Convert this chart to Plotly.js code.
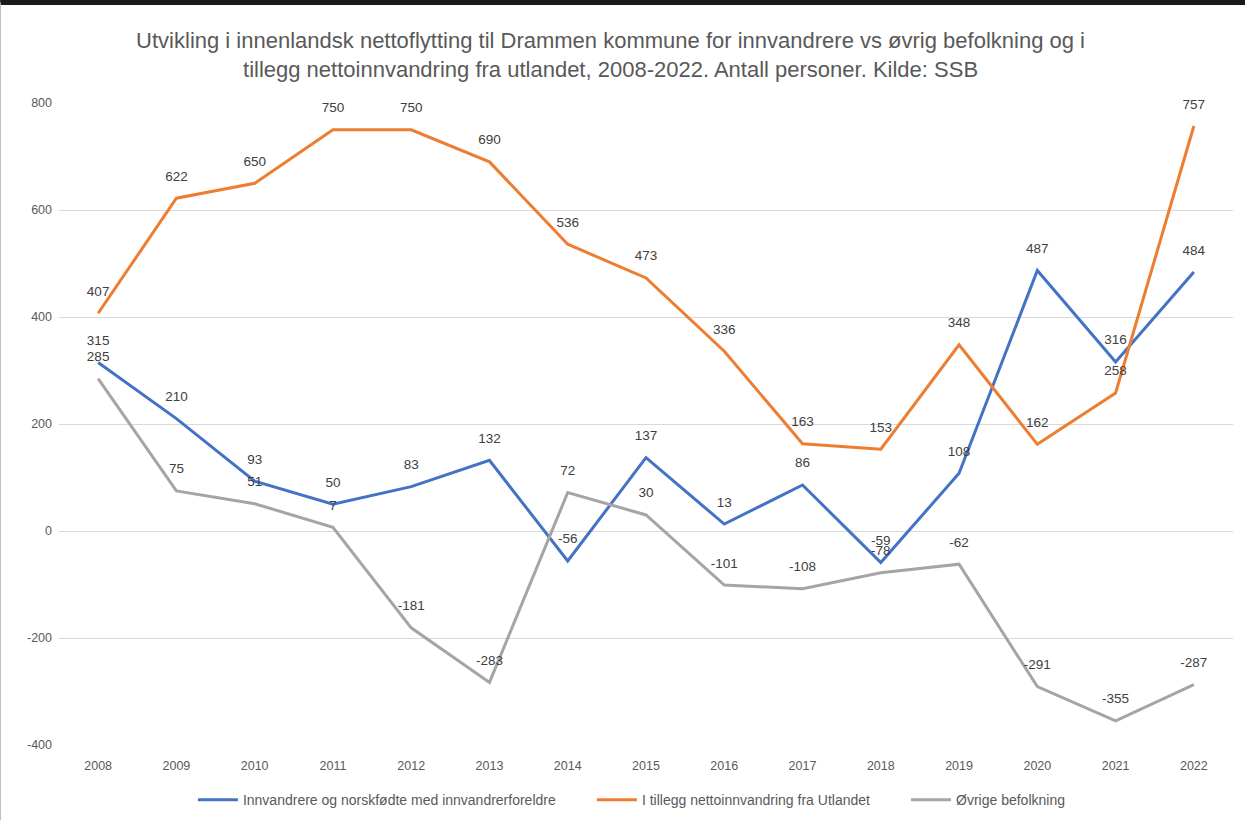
<!DOCTYPE html>
<html>
<head>
<meta charset="utf-8">
<script src="https://cdn.plot.ly/plotly-3.0.1.min.js"></script>
<style>
  html, body { margin: 0; padding: 0; background: #fff; }
  #chart { width: 1244px; height: 815px; border-top: 5px solid #1a1a1a; border-left: 1px solid #bfbfbf; }
</style>
</head>
<body>
<div id="chart"></div>
<script>
// Innenlandsk nettoflytting Drammen, 2008-2022
var years = ['2008', '2009', '2010', '2011', '2012', '2013', '2014', '2015',
             '2016', '2017', '2018', '2019', '2020', '2021', '2022'];
var innvandrere = [315, 210, 93, 50, 83, 132, -56, 137, 13, 86, -59, 108, 487, 316, 484];
var utlandet = [407, 622, 650, 750, 750, 690, 536, 473, 336, 163, 153, 348, 162, 258, 757];
var ovrige = [285, 75, 51, 7, -181, -283, 72, 30, -101, -108, -78, -62, -291, -355, -287];
var yTicks = [-400, -200, 0, 200, 400, 600, 800];

var fontFam = 'Liberation Sans, Arial, sans-serif';
var labelFont = {family: fontFam, size: 13.5, color: '#404040'};
var pad = '\u00a0\u00a0\u00a0\u00a0\u00a0\u00a0\u00a0\u00a0';

function lineTrace(name, values, color) {
    return {
        x: years,
        y: values,
        name: name,
        type: 'scatter',
        mode: 'lines',
        line: {color: color, width: 3},
        hoverinfo: 'x+y'
    };
}

// labels sit on invisible markers so they are lifted off the line like in Excel
function labelTrace(values) {
    return {
        x: years,
        y: values,
        type: 'scatter',
        mode: 'markers+text',
        text: values.map(String),
        textposition: 'top center',
        textfont: labelFont,
        marker: {size: 21, color: 'rgba(0,0,0,0)'},
        showlegend: false,
        hoverinfo: 'skip',
        cliponaxis: false
    };
}

var data = [
    lineTrace('Innvandrere og norskfødte med innvandrerforeldre' + pad, innvandrere, '#4472C4'),
    lineTrace('I tillegg nettoinnvandring fra Utlandet' + pad, utlandet, '#ED7D31'),
    lineTrace('Øvrige befolkning', ovrige, '#A5A5A5'),
    labelTrace(innvandrere),
    labelTrace(utlandet),
    labelTrace(ovrige)
];

var layout = {
    title: {
        text: 'Utvikling i innenlandsk nettoflytting til Drammen kommune for innvandrere vs øvrig befolkning og i<br>tillegg nettoinnvandring fra utlandet, 2008-2022. Antall personer. Kilde: SSB',
        font: {family: fontFam, size: 22, color: '#595959'},
        x: 0.49,
        xanchor: 'center',
        y: 0.947,
        yanchor: 'top'
    },
    margin: {l: 58, r: 12, t: 98, b: 75},
    paper_bgcolor: '#ffffff',
    plot_bgcolor: '#ffffff',
    showlegend: true,
    legend: {
        orientation: 'h',
        xref: 'paper',
        x: 0.488,
        xanchor: 'center',
        yref: 'container',
        y: 0.0245,
        yanchor: 'middle',
        font: {family: fontFam, size: 14, color: '#595959'},
        itemwidth: 40,
        tracegroupgap: 0
    },
    xaxis: {
        type: 'category',
        range: [-0.5, 14.5],
        showgrid: false,
        zeroline: false,
        showline: false,
        ticks: '',
        ticklabelstandoff: 11,
        tickfont: {family: fontFam, size: 12.5, color: '#595959'}
    },
    yaxis: {
        range: [-400, 800],
        tickvals: yTicks,
        ticktext: yTicks.map(String),
        showgrid: true,
        gridcolor: '#d9d9d9',
        gridwidth: 1,
        zeroline: false,
        showline: false,
        ticks: '',
        ticklabelstandoff: 6,
        tickfont: {family: fontFam, size: 12.5, color: '#595959'}
    }
};

Plotly.newPlot('chart', data, layout, {displayModeBar: false});
</script>
</body>
</html>
